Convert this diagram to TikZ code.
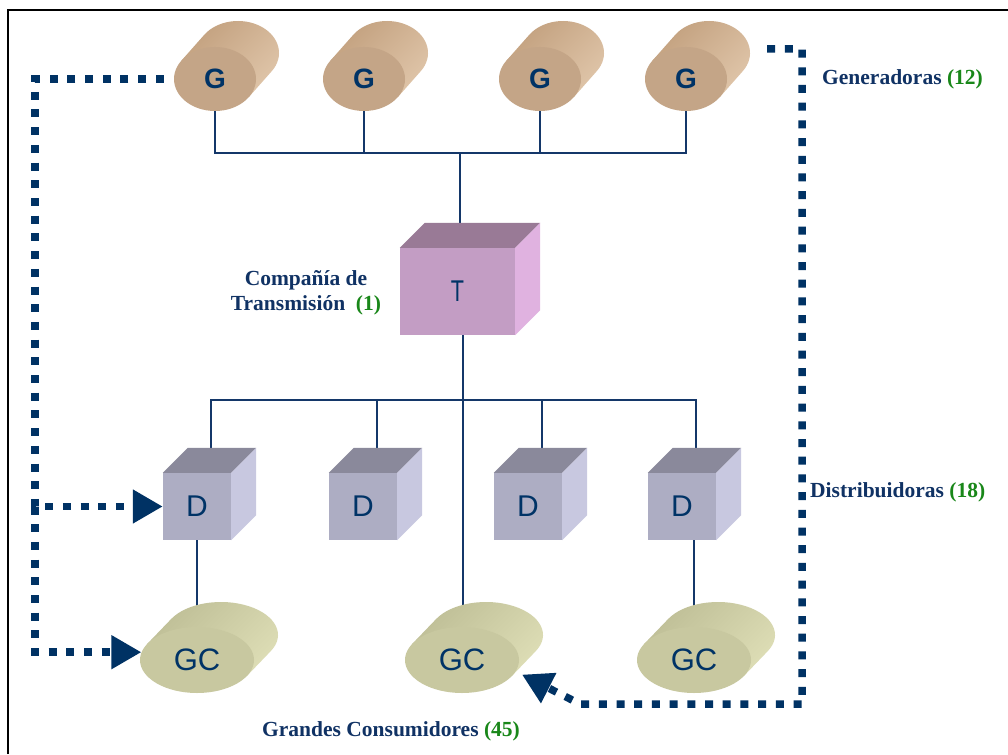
\documentclass[tikz,border=0pt]{standalone}
\usepackage{fontspec}
\setmainfont{Liberation Serif}
\setsansfont{Liberation Sans}
\usetikzlibrary{shapes.geometric,arrows.meta,calc}

\pgfdeclarelayer{paper}
\pgfdeclarelayer{wires}
\pgfdeclarelayer{bodies}
\pgfsetlayers{paper,wires,bodies,main}

\definecolor{ink}{RGB}{0,51,102}
\definecolor{wirecol}{RGB}{20,55,105}
\definecolor{flowcol}{RGB}{0,50,100}
\definecolor{labelcol}{RGB}{16,50,100}
\definecolor{numgreen}{RGB}{25,135,25}
\definecolor{genfront}{RGB}{196,165,135}
\definecolor{gendark}{RGB}{194,160,126}
\definecolor{genlight}{RGB}{224,198,170}
\definecolor{consfront}{RGB}{200,200,160}
\definecolor{consdark}{RGB}{190,190,150}
\definecolor{conslight}{RGB}{222,222,182}
\definecolor{tfront}{RGB}{195,157,196}
\definecolor{ttop}{RGB}{153,122,150}
\definecolor{tside}{RGB}{224,178,224}
\definecolor{dfront}{RGB}{173,173,195}
\definecolor{dtop}{RGB}{138,137,155}
\definecolor{dside}{RGB}{200,200,224}

\tikzset{
  wire/.style={draw=wirecol, line width=1.4pt},
  flow/.style={draw=flowcol, line width=7.5pt, dash pattern=on 8pt off 9.7pt},
  flowtip/.style={-{Triangle[length=30pt,width=32pt]}},
  gen/.style={ellipse, fill=genfront, minimum width=82pt, minimum height=64pt,
    inner sep=0pt, text=ink, font=\sffamily\bfseries\fontsize{28}{28}\selectfont},
  cons/.style={ellipse, fill=consfront, minimum width=114pt, minimum height=66pt,
    inner sep=0pt, text=ink, font=\sffamily\fontsize{31}{31}\selectfont},
  trans/.style={rectangle, fill=tfront, minimum width=115pt, minimum height=87pt,
    inner sep=0pt, text=ink, font=\sffamily\fontsize{30}{30}\selectfont},
  dist/.style={rectangle, fill=dfront, minimum width=68pt, minimum height=67pt,
    inner sep=0pt, text=ink, font=\sffamily\fontsize{30}{30}\selectfont},
  caption/.style={inner sep=0pt, text=labelcol,
    font=\bfseries\fontsize{21.5}{25.5}\selectfont},
}

% side and back of a cylinder lying behind the front ellipse of node #1
% #2,#3 tangent angles, #4,#5 radii, #6,#7 depth offset, #8,#9 shading colours
\newcommand\cylside[9]{%
  \shade[left color=#8, right color=#9, shading angle=45]
    ($(#1.center)+(#2:#4pt and #5pt)$) -- ++(#6pt,#7pt)
    arc[start angle=#2, end angle=#3, x radius=#4pt, y radius=#5pt]
    -- ($(#1.center)+(#3:#4pt and #5pt)$) -- cycle;
}
% top and right faces of a box whose front face is node #1
\newcommand\boxfaces[4]{%
  \fill[#3] (#1.north west) -- ++(#2pt,#2pt) -- ($(#1.north east)+(#2pt,#2pt)$)
    -- (#1.north east) -- cycle;
  \fill[#4] (#1.north east) -- ++(#2pt,#2pt) -- ($(#1.south east)+(#2pt,#2pt)$)
    -- (#1.south east) -- cycle;
}

\begin{document}
\begin{tikzpicture}[x=1pt,y=-1pt]
\useasboundingbox (0,0) rectangle (1008,754);
\begin{pgfonlayer}{paper}
  \fill[white] (0,0) rectangle (1008,754);
\end{pgfonlayer}

% frame
\draw[line width=2pt] (8,754) -- (8,10.5) -- (1008,10.5);

% generators
\node[gen] (g1) at (215,79) {G};
\node[gen] (g2) at (364,79) {G};
\node[gen] (g3) at (540,79) {G};
\node[gen] (g4) at (686,79) {G};

% transmission company
\node[trans] (t) at (457.5,291.5) {\scalebox{0.72}[1]{T}};

% distributors
\node[dist] (d1) at (197,506.5) {D};
\node[dist] (d2) at (363,506.5) {D};
\node[dist] (d3) at (528,506.5) {D};
\node[dist] (d4) at (682,506.5) {D};

% large consumers
\node[cons] (gc1) at (197,660) {GC};
\node[cons] (gc2) at (462,660) {GC};
\node[cons] (gc3) at (694,660) {GC};

\begin{pgfonlayer}{bodies}
  \foreach \n in {g1,g2,g3,g4}{\cylside{\n}{145.4}{-34.6}{41}{32}{23}{26}{gendark}{genlight}}
  \foreach \n in {gc1,gc2,gc3}{\cylside{\n}{150.9}{-29.1}{57}{33}{24}{25}{consdark}{conslight}}
  \boxfaces{t}{25}{ttop}{tside}
  \foreach \n in {d1,d2,d3,d4}{\boxfaces{\n}{25}{dtop}{dside}}
\end{pgfonlayer}

% captions
\node[caption, anchor=base west] (capgen) at (822,85) {Generadoras {\color{numgreen}(12)}};
\node[caption, align=center] (captrans) at (306,293) {Compañía de\\Transmisión\ \ {\color{numgreen}(1)}};
\node[caption, anchor=base west] (capdist) at (810,497) {Distribuidoras {\color{numgreen}(18)}};
\node[caption, anchor=base west] (capcons) at (262,736) {Grandes Consumidores {\color{numgreen}(45)}};

% wiring
\coordinate (gjoin) at (460,153);
\coordinate (djoin) at (463,400);
\coordinate (d1top) at ([xshift=14pt]d1.north);
\coordinate (d2top) at ([xshift=14pt]d2.north);
\coordinate (d3top) at ([xshift=14pt]d3.north);
\coordinate (d4top) at ([xshift=14pt]d4.north);
\begin{pgfonlayer}{wires}
  \draw[wire] (g1.south) -- (g1.south |- gjoin) -- (g4.south |- gjoin) -- (g4.south);
  \draw[wire] (g2.south) -- (g2.south |- gjoin);
  \draw[wire] (g3.south) -- (g3.south |- gjoin);
  \draw[wire] (gjoin) -- (gjoin |- t.north);
  \draw[wire] (d1top) -- (d1top |- djoin) -- (d4top |- djoin) -- (d4top);
  \draw[wire] (d2top) -- (d2top |- djoin);
  \draw[wire] (d3top) -- (d3top |- djoin);
  \draw[wire] (djoin |- t.south) -- (djoin |- gc2.north);
  \draw[wire] (d1.south) -- (d1.south |- gc1.north);
  \draw[wire] (gc3.north |- d4.south) -- (gc3.north);
\end{pgfonlayer}

% contract flows
\coordinate (westrail) at (35,0);
\coordinate (eastrail) at (802,0);
\coordinate (bend) at (580,704);
\draw[flow, flowtip, shorten <=10pt] (g1.west) -| (westrail |- d1.west) -- (d1.west);
\draw[flow, flowtip] (westrail |- d1.west) |- (gc1.172);
\draw[flow, flowtip, shorten >=7pt] ([shift={(40pt,30pt)}]g4.east) -| (eastrail |- bend) -- (bend) -- (gc2.-12);
\end{tikzpicture}
\end{document}
